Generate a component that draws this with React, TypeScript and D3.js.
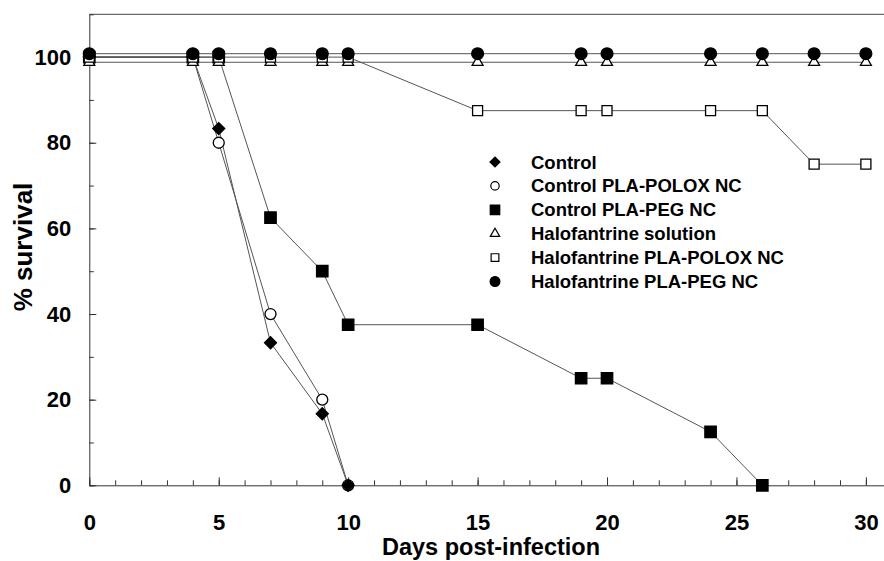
import React, { useEffect, useRef } from 'react';
import * as d3 from 'd3';

// days and % survival
const controlDays = [0, 4, 5, 7, 9, 10];
const controlVals = [100, 100, 83.3, 33.3, 16.7, 0];

const poloxDays = [0, 4, 5, 7, 9, 10];
const poloxVals = [100, 100, 80, 40, 20, 0];

const pegDays = [0, 4, 5, 7, 9, 10, 15, 19, 20, 24, 26];
const pegVals = [100, 100, 100, 62.5, 50, 37.5, 37.5, 25, 25, 12.5, 0];

const haloDays = [0, 4, 5, 7, 9, 10, 15, 19, 20, 24, 26, 28, 30];
const haloSolVals = [98.8, 98.8, 98.8, 98.8, 98.8, 98.8, 98.8, 98.8, 98.8, 98.8, 98.8, 98.8, 98.8];
const haloPoloxVals = [100, 100, 100, 100, 100, 100, 87.5, 87.5, 87.5, 87.5, 87.5, 75, 75];
const haloPegVals = [100.8, 100.8, 100.8, 100.8, 100.8, 100.8, 100.8, 100.8, 100.8, 100.8, 100.8, 100.8, 100.8];

const legendLabels = [
    'Control',
    'Control PLA-POLOX NC',
    'Control PLA-PEG NC',
    'Halofantrine solution',
    'Halofantrine PLA-POLOX NC',
    'Halofantrine PLA-PEG NC'
];

const xTicks = [0, 5, 10, 15, 20, 25, 30];
const yTicks = [0, 20, 40, 60, 80, 100];

const W = 884, H = 561;
const FONT = '"Liberation Sans", Arial, Helvetica, sans-serif';

type Marker = { shape: string, fill: string, size: number, legendSize: number };

const markers: Marker[] = [
    { shape: 'diamond', fill: '#000', size: 72, legendSize: 50 },
    { shape: 'circle', fill: '#fff', size: 95, legendSize: 55 },
    { shape: 'square', fill: '#000', size: 130, legendSize: 90 },
    { shape: 'triangle', fill: '#fff', size: 52, legendSize: 38 },
    { shape: 'square', fill: '#fff', size: 100, legendSize: 60 },
    { shape: 'circle', fill: '#000', size: 110, legendSize: 75 }
];

// marker drawing order: open circles under the diamonds, so the shared end point reads dark
const drawOrder = [1, 0, 2, 3, 4, 5];

function symbolPath(m: Marker, size: number) {
    let type: any = d3.symbolCircle;
    if (m.shape === 'square' || m.shape === 'diamond') type = d3.symbolSquare;
    if (m.shape === 'triangle') type = d3.symbolTriangle;
    return d3.symbol().type(type).size(size)();
}

function boldText(sel: any, size: number) {
    return sel
        .attr('fill', '#000')
        .style('font-family', FONT)
        .style('font-size', size + 'px')
        .style('font-weight', 'bold');
}

export default function App() {
    const ref = useRef<SVGSVGElement>(null);

    useEffect(() => {
        const svg = d3.select(ref.current);
        svg.selectAll('*').remove();

        const left = 89.3, right = 884, top = 14.3, bottom = 485.3;

        const x = d3.scaleLinear().domain([0, 30.7]).range([left, right]);
        const y = d3.scaleLinear().domain([0, 110]).range([bottom, top]);

        // frame: top line
        svg.append('line')
            .attr('x1', left).attr('x2', right)
            .attr('y1', top).attr('y2', top)
            .attr('stroke', '#444').attr('stroke-width', 1);

        // x axis, minor then major
        svg.append('g')
            .attr('transform', 'translate(0,' + bottom + ')')
            .call(d3.axisBottom(x).tickValues(d3.range(0, 31)).tickSizeInner(-5).tickSizeOuter(0).tickFormat(() => ''))
            .call(g => g.select('.domain').attr('stroke', '#333'))
            .call(g => g.selectAll('.tick line').attr('stroke', '#333'));

        svg.append('g')
            .attr('transform', 'translate(0,' + bottom + ')')
            .call(d3.axisBottom(x).tickValues(xTicks).tickSizeInner(-8).tickSizeOuter(0).tickPadding(29))
            .call(g => g.select('.domain').remove())
            .call(g => g.selectAll('.tick line').attr('stroke', '#333'))
            .call(g => boldText(g.selectAll('.tick text'), 22));

        // y axis
        svg.append('g')
            .attr('transform', 'translate(' + left + ',0)')
            .call(d3.axisLeft(y).tickValues(d3.range(0, 111, 10)).tickSizeInner(-4.5).tickSizeOuter(0).tickFormat(() => ''))
            .call(g => g.select('.domain').attr('stroke', '#333'))
            .call(g => g.selectAll('.tick line').attr('stroke', '#333'));

        svg.append('g')
            .attr('transform', 'translate(' + left + ',0)')
            .call(d3.axisLeft(y).tickValues(yTicks).tickSizeInner(-7).tickSizeOuter(0).tickPadding(18))
            .call(g => g.select('.domain').remove())
            .call(g => g.selectAll('.tick line').attr('stroke', '#333'))
            .call(g => boldText(g.selectAll('.tick text'), 22));

        // axis titles
        boldText(svg.append('text'), 23.5)
            .attr('x', 491).attr('y', 555)
            .attr('text-anchor', 'middle')
            .text('Days post-infection');

        boldText(svg.append('text'), 26)
            .attr('transform', 'translate(32,247) rotate(-90)')
            .attr('text-anchor', 'middle')
            .text('% survival');

        const series = [
            { days: controlDays, vals: controlVals },
            { days: poloxDays, vals: poloxVals },
            { days: pegDays, vals: pegVals },
            { days: haloDays, vals: haloSolVals },
            { days: haloDays, vals: haloPoloxVals },
            { days: haloDays, vals: haloPegVals }
        ];

        series.forEach(s => {
            const pts = s.days.map((d, i) => [x(d), y(s.vals[i])] as [number, number]);
            svg.append('path')
                .attr('d', d3.line()(pts))
                .attr('fill', 'none')
                .attr('stroke', '#555')
                .attr('stroke-width', 1);
        });

        drawOrder.forEach(k => {
            const s = series[k];
            const m = markers[k];
            svg.append('g')
                .selectAll('path')
                .data(s.days)
                .join('path')
                .attr('d', symbolPath(m, m.size))
                .attr('transform', (d, i) => 'translate(' + x(d) + ',' + y(s.vals[i]) + ')' + (m.shape === 'diamond' ? ' rotate(45)' : ''))
                .attr('fill', m.fill)
                .attr('stroke', '#000')
                .attr('stroke-width', 1.3);
        });

        // legend
        const legend = svg.append('g');
        legendLabels.forEach((label, i) => {
            const cy = 162 + i * 23.9;
            const m = markers[i];
            legend.append('path')
                .attr('d', symbolPath(m, m.legendSize))
                .attr('transform', 'translate(495,' + cy + ')' + (m.shape === 'diamond' ? ' rotate(45)' : ''))
                .attr('fill', m.fill)
                .attr('stroke', '#000')
                .attr('stroke-width', 1.2);
            boldText(legend.append('text'), 18.5)
                .attr('x', 531).attr('y', cy + 6.5)
                .text(label);
        });
    }, []);

    return (
        <svg ref={ref} width={W} height={H}
            style={{ position: 'absolute', left: 0, top: 0, background: '#fff' }} />
    );
}
